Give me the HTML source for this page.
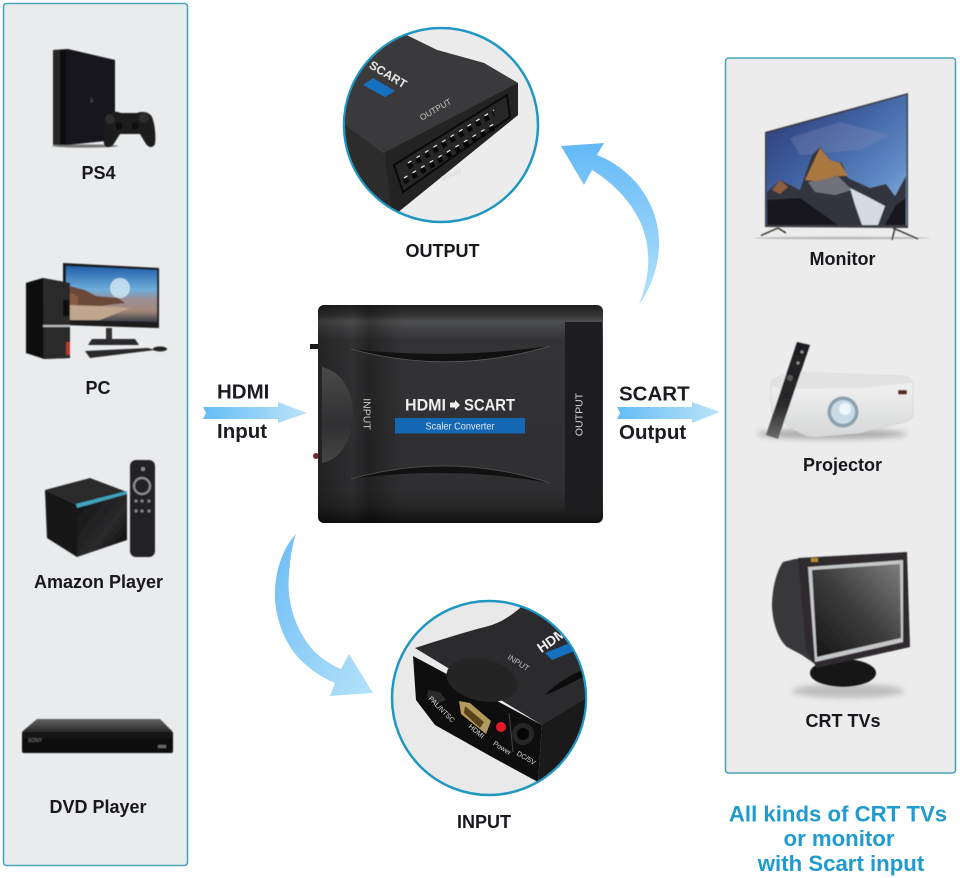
<!DOCTYPE html>
<html><head><meta charset="utf-8"><style>html,body{margin:0;padding:0;background:#fff}svg{display:block}text{font-family:"Liberation Sans",sans-serif}</style></head><body>
<svg width="960" height="878" viewBox="0 0 960 878" xmlns="http://www.w3.org/2000/svg">
<defs>
<linearGradient id="au" x1="0" y1="0" x2="0" y2="1"><stop offset="0" stop-color="#63b9f8"/><stop offset="1" stop-color="#b5e2fa"/></linearGradient>
<linearGradient id="ad" x1="0" y1="0" x2="1" y2="1"><stop offset="0" stop-color="#6cbdf6"/><stop offset="1" stop-color="#b5e2f9"/></linearGradient>
<linearGradient id="ah" x1="0" y1="0" x2="1" y2="0"><stop offset="0" stop-color="#63bdf7"/><stop offset="1" stop-color="#bde4f8"/></linearGradient>
<linearGradient id="dev" x1="0" y1="0" x2="0" y2="1"><stop offset="0" stop-color="#1f1f20"/><stop offset=".05" stop-color="#363637"/><stop offset=".075" stop-color="#4e4f50"/><stop offset=".16" stop-color="#333335"/><stop offset=".85" stop-color="#2f2f31"/><stop offset=".93" stop-color="#262627"/><stop offset="1" stop-color="#0f0f10"/></linearGradient>
<linearGradient id="devx" x1="0" y1="0" x2="1" y2="0"><stop offset="0" stop-color="#000" stop-opacity=".3"/><stop offset=".12" stop-color="#000" stop-opacity=".05"/><stop offset=".18" stop-color="#000" stop-opacity=".3"/><stop offset=".3" stop-color="#000" stop-opacity="0"/><stop offset="1" stop-color="#000" stop-opacity="0"/></linearGradient>
<linearGradient id="bump" x1="0" y1="0" x2="0" y2="1"><stop offset="0" stop-color="#4a4a4b"/><stop offset=".6" stop-color="#303032"/><stop offset="1" stop-color="#454546"/></linearGradient>
<linearGradient id="tvs" x1="0" y1="0" x2="1" y2="1"><stop offset="0" stop-color="#27386f"/><stop offset=".4" stop-color="#3f5f9e"/><stop offset=".75" stop-color="#5f8cc6"/><stop offset="1" stop-color="#9bbcdc"/></linearGradient>
<linearGradient id="pcs" x1="0" y1="0" x2="0" y2="1"><stop offset="0" stop-color="#1f5ea8"/><stop offset=".42" stop-color="#6eaedb"/><stop offset=".6" stop-color="#9a8f95"/><stop offset=".8" stop-color="#a48a78"/><stop offset="1" stop-color="#3a3c4a"/></linearGradient>
<linearGradient id="crt" x1="1" y1="0" x2="0" y2="1"><stop offset="0" stop-color="#7e7e7e"/><stop offset=".5" stop-color="#3c3c3d"/><stop offset="1" stop-color="#141415"/></linearGradient>
<linearGradient id="cub" x1="0" y1="0" x2="1" y2="1"><stop offset="0" stop-color="#111"/><stop offset=".6" stop-color="#2a2a2c"/><stop offset="1" stop-color="#050505"/></linearGradient>
<linearGradient id="prj" x1="0" y1="0" x2="0" y2="1"><stop offset="0" stop-color="#f6f6f6"/><stop offset="1" stop-color="#d6d7d8"/></linearGradient>
<linearGradient id="dvd" x1="0" y1="0" x2="0" y2="1"><stop offset="0" stop-color="#626262"/><stop offset=".36" stop-color="#2e2e2e"/><stop offset=".4" stop-color="#151515"/><stop offset="1" stop-color="#0a0a0a"/></linearGradient>
<linearGradient id="rem" x1="0" y1="0" x2="0" y2="1"><stop offset="0" stop-color="#1d1d1f"/><stop offset=".65" stop-color="#2a2a2c"/><stop offset="1" stop-color="#6b6b6d"/></linearGradient>
<clipPath id="c1"><circle cx="441" cy="125" r="96"/></clipPath>
<clipPath id="c2"><circle cx="489" cy="698" r="96"/></clipPath>
<filter id="s" x="-5%" y="-5%" width="110%" height="110%"><feGaussianBlur stdDeviation=".5"/></filter>
<filter id="b" x="-30%" y="-100%" width="160%" height="300%"><feGaussianBlur stdDeviation="3"/></filter>
</defs>
<rect width="960" height="878" fill="#fff"/>

<!-- Panels -->
<rect x="3.5" y="3.5" width="184" height="862" rx="3" fill="#e9ebec" stroke="#4ca5b6" stroke-width="1.6"/>
<rect x="725.5" y="58" width="230" height="715" rx="3" fill="#ececec" stroke="#4ca5b6" stroke-width="1.6"/>

<!-- PS4 -->
<g filter="url(#s)">
<ellipse cx="85" cy="146" rx="33" ry="1.6" fill="#777"/>
<polygon points="53,50 68,49 115,60 115,140 68,145 53,145" fill="#18181a"/>
<polygon points="60,50 66,50 66,145 60,145" fill="#070708"/>
<polygon points="53,50 60,50 60,145 53,145" fill="#262628"/>
<path d="M91 96l3 6-4 1z" fill="#39393b"/>
<path d="M106 116c5-5 10-5 15-3h16c6-2 12-1 15 4 3 7 4 20 3 27-2 4-6 4-9 0l-6-10h-20l-7 11c-3 3-8 3-9-1-1-8 0-21 2-28z" fill="#1b1b1d"/>
<circle cx="110" cy="119" r="5" fill="#2d2d2f"/><circle cx="144" cy="118" r="5" fill="#2d2d2f"/><circle cx="119" cy="126" r="3.5" fill="#0a0a0b"/><circle cx="135" cy="126" r="3.5" fill="#0a0a0b"/>
</g>
<text x="98.500" y="179" font-size="18" font-weight="700" text-anchor="middle" fill="#17171c">PS4</text>

<!-- PC -->
<g filter="url(#s)">
<polygon points="63,263 159,268 159,328 63,325" fill="#1a1a1c"/>
<polygon points="66,266 157,270 157,322 66,320" fill="url(#pcs)"/>
<circle cx="120" cy="288" r="10" fill="#cfe6f2" opacity=".85"/>
<polygon points="66,285 85,290 96,296 118,298 125,303 100,306 66,309" fill="#6a4a38"/>
<polygon points="66,305 100,306 130,308 100,320 66,320" fill="#c0a68c"/>
<polygon points="66,290 78,297 78,305 66,305" fill="#8a5d42"/>
<rect x="106" y="328" width="6" height="11" fill="#333"/>
<polygon points="92,339 135,339 139,345 88,345" fill="#2c2c2e"/>
<polygon points="85,351 148,348 155,350 90,358" fill="#29292b"/>
<ellipse cx="160" cy="349" rx="7" ry="2.5" fill="#222"/>
<polygon points="26,283 43,278 70,283 70,358 44,359 26,353" fill="#1d1d1f"/>
<polygon points="43,278 70,283 70,358 44,359" fill="#2a2a2c"/>
<rect x="43" y="325" width="27" height="2" fill="#bbb"/>
<rect x="66" y="342" width="4" height="13" fill="#b23a2e"/>
<rect x="63" y="300" width="6" height="16" fill="#0a0a0a"/>
<polygon points="26,283 43,278 43,357 26,353" fill="#111"/>
</g>
<text x="98" y="394" font-size="18" font-weight="700" text-anchor="middle" fill="#17171c">PC</text>

<!-- Amazon -->
<g filter="url(#s)">
<polygon points="45,490 90,478 127,492 77,505" fill="#2a2a2c"/>
<polygon points="45,490 77,505 77,557 47,538" fill="#141416"/>
<polygon points="77,505 127,492 127,540 77,557" fill="url(#cub)"/>
<polygon points="76,504 127,491 127,494 77,508" fill="#3fa4bd"/>
<rect x="130" y="460" width="25" height="97" rx="6" fill="#242426"/>
<circle cx="142" cy="486" r="8" fill="none" stroke="#8e9092" stroke-width="2"/>
<g fill="#8a8a8a"><circle cx="136" cy="501" r="1.500"/><circle cx="142" cy="501" r="1.500"/><circle cx="149" cy="501" r="1.500"/><circle cx="136" cy="511" r="1.500"/><circle cx="142" cy="511" r="1.500"/><circle cx="149" cy="511" r="1.500"/><circle cx="143" cy="469" r="2"/></g>
</g>
<text x="98.500" y="588" font-size="18" font-weight="700" text-anchor="middle" fill="#17171c">Amazon Player</text>

<!-- DVD -->
<g filter="url(#s)">
<path d="M37 719H160L172 731Q173 732 173 734V751Q173 753 171 753H24Q22 753 22 751V734Q22 732 23 731Z" fill="url(#dvd)"/>
<text x="35" y="742" font-size="5" fill="#777" text-anchor="middle">SONY</text>
<rect x="158" y="745" width="8" height="3" fill="#666"/>
</g>
<text x="98" y="813" font-size="18" font-weight="700" text-anchor="middle" fill="#17171c">DVD Player</text>

<!-- Monitor -->
<g filter="url(#s)">
<ellipse cx="842" cy="238" rx="88" ry="1.400" fill="#bbb"/>
<line x1="761" y1="235.500" x2="778" y2="228" stroke="#333" stroke-width="1.500"/>
<line x1="778" y1="228" x2="786" y2="233" stroke="#333" stroke-width="1.500"/>
<line x1="893" y1="228" x2="918" y2="239" stroke="#333" stroke-width="1.500"/>
<line x1="895" y1="228" x2="892" y2="240" stroke="#333" stroke-width="1.500"/>
<polygon points="765,132 908,93 908,228 765,227" fill="#3a3c40"/>
<polygon points="766.500,133.500 906.500,95 906.500,225 766.500,225" fill="url(#tvs)"/>
<polygon points="790,138 840,122 890,135 860,150 800,155" fill="#8b90bb" opacity=".3"/>
<polygon points="767,192 780,180 800,190 812,155 820,147 830,160 842,163 848,178 870,188 886,184 895,196 906,176 906,225 767,225" fill="#33353c"/>
<polygon points="805,180 820,148 830,160 840,163 848,176 836,176 820,182" fill="#a9773f"/>
<polygon points="808,182 822,180 838,176 852,190 835,195 815,192" fill="#6f7179"/>
<polygon points="780,180 788,187 780,194 772,190" fill="#8b5f3f"/>
<polygon points="850,188 868,197 885,206 878,225 862,225 855,205" fill="#d6dbe1"/>
<polygon points="767,200 800,198 838,225 767,225" fill="#16171b"/>
<polygon points="885,225 896,205 906,198 906,225" fill="#16171b"/>
</g>
<text x="842.500" y="265" font-size="18" font-weight="700" text-anchor="middle" fill="#17171c">Monitor</text>

<!-- Projector -->
<g filter="url(#s)">
<ellipse cx="832" cy="434" rx="75" ry="5" fill="#aaa" filter="url(#b)"/>
<path d="M773 379Q785 374 797 372L905 376Q913 378 913 385V416Q912 420 905 422L860 433 815 437Q805 437 790 427L774 415Q771 412 771 405V385Q771 381 773 379Z" fill="url(#prj)" stroke="#cfcfcf" stroke-width=".6"/>
<path d="M773 379Q785 374 797 372L905 376Q912 378 913 383L860 388 780 389 771 385Z" fill="#e2e2e2"/>
<circle cx="843" cy="412" r="15.500" fill="#8aa0ae"/><circle cx="843" cy="412" r="12" fill="#c9dbe6"/><circle cx="845" cy="409" r="6" fill="#eef6fa"/>
<rect x="898" y="390" width="9" height="4.500" rx="1" fill="#5a2a22"/>
<polygon points="797,342 810,345 778,439 766,435" fill="url(#rem)"/>
<circle cx="802" cy="352" r="1.500" fill="#999"/><circle cx="798" cy="363" r="1.500" fill="#999"/><circle cx="790" cy="378" r="3" fill="#55565a"/>
</g>
<text x="842.500" y="471" font-size="18" font-weight="700" text-anchor="middle" fill="#17171c">Projector</text>

<!-- CRT -->
<g filter="url(#s)">
<ellipse cx="848" cy="691" rx="56" ry="7" fill="#bdbdbd" filter="url(#b)"/>
<ellipse cx="843" cy="673" rx="33" ry="14" fill="#151516"/>
<path d="M815 558L795 559 783 562C776 572 772 590 772 607 773 625 779 640 787 647L802 655 815 664Z" fill="#39383a"/>
<polygon points="798,558 907,552 910,647 817,668 806,650" fill="#2e2c2e"/>
<polygon points="808,567 903,560 903,642 815,662" fill="#c6c7c8"/>
<polygon points="812,570 900,564 901,638 817,657" fill="url(#crt)"/>
<rect x="811" y="558" width="7" height="4" fill="#b08a2c"/>
</g>
<text x="843" y="727" font-size="18" font-weight="700" text-anchor="middle" fill="#17171c">CRT TVs</text>

<!-- Caption -->
<g font-size="22.200" font-weight="700" fill="#209bcf" text-anchor="middle">
<text x="838" y="821.500">All kinds of CRT TVs</text>
<text x="839" y="846">or monitor</text>
<text x="841" y="871">with Scart input</text>
</g>

<!-- Curved arrows -->
<path d="M561 146L604 143 597 155C635 170 658 205 659 240 660 265 650 290 639 305 648 280 650 262 647 245 643 215 620 187 592 170L584 185Z" fill="url(#au)"/>
<path d="M296 534C281 550 274 575 275 600 277 625 288 650 305 664 315 673 325 679 335 683L330 696 373 693 349 654 341 669C325 662 312 652 303 636 292 618 287 595 289 575 290 560 292 545 296 534Z" fill="url(#ad)"/>

<!-- Straight arrows -->
<polygon points="203,407 278,407 278,402 307,413 278,423 278,419 203,419 206,413" fill="url(#ah)"/>
<polygon points="617,407 692,407 692,402 720,412 692,423 692,419 617,419 620,413" fill="url(#ah)"/>

<g font-size="20.500" font-weight="700" fill="#1b1b20">
<text x="217" y="398.500">HDMI</text>
<text x="217" y="438">Input</text>
<text x="619" y="400.500">SCART</text>
<text x="619" y="439">Output</text>
</g>

<!-- Device -->
<rect x="310" y="344" width="9" height="5" fill="#1a1a1a"/>
<circle cx="316" cy="456" r="3" fill="#7a2a26"/>
<rect x="318" y="305" width="285" height="218" rx="6" fill="url(#dev)"/>
<rect x="318" y="305" width="285" height="218" rx="6" fill="url(#devx)"/>
<rect x="565" y="322" width="37" height="190" fill="#1d1d1f"/>
<path d="M322 367C342 372 352 390 353 412 353 440 340 460 322 463Z" fill="url(#bump)"/>
<path d="M351 349Q450 376 550 346Q450 360 351 349Z" fill="#111112"/>
<path d="M351 349Q450 376 550 346" fill="none" stroke="#5a5a5b" stroke-width=".8"/>
<path d="M351 479Q450 451 550 483Q450 465 351 479Z" fill="#111112"/>
<path d="M351 479Q450 451 550 483" fill="none" stroke="#505051" stroke-width=".8"/>
<text transform="translate(363.500,414) rotate(90)" font-size="10.500" fill="#c9c9c9" text-anchor="middle">INPUT</text>
<text transform="translate(582.500,414.500) rotate(-90)" font-size="10.500" fill="#d6d6d6" text-anchor="middle">OUTPUT</text>
<text x="405" y="410.500" font-size="17" font-weight="700" fill="#eee" textLength="41" lengthAdjust="spacingAndGlyphs">HDMI</text>
<polygon points="450,402.500 455,402.500 455,400 460,405 455,410 455,407.500 450,407.500" fill="#eee"/>
<text x="464" y="410.500" font-size="17" font-weight="700" fill="#eee" textLength="51" lengthAdjust="spacingAndGlyphs">SCART</text>
<rect x="395" y="418" width="130" height="15.500" fill="#1467b3"/>
<text x="460" y="429.500" font-size="10" fill="#dfe9f3" text-anchor="middle" textLength="69" lengthAdjust="spacingAndGlyphs">Scaler Converter</text>

<!-- Output circle -->
<circle cx="441" cy="125" r="97" fill="#ececec" stroke="#2096c2" stroke-width="2.500"/>
<g clip-path="url(#c1)">
<polygon points="340,20 392,28 437,50 484,63 518,83 518,115 392,217 340,220" fill="#2c2c2d"/>
<polygon points="340,20 392,28 437,50 484,63 518,83 383,153 345,125" fill="#3a3a3c"/>
<polygon points="385,153 518,83 518,115 392,217" fill="#232324"/>
<polygon points="394,165 507,95 510,117 403,192" fill="#262627" stroke="#0a0a0a" stroke-width="2"/>
<polygon points="373,78 395,91 385,97 363,85" fill="#1670c0"/>
<text transform="translate(386,78) rotate(31)" font-size="12" font-weight="700" fill="#e8e8e8" text-anchor="middle">SCART</text>
<text transform="translate(437,112) rotate(-30)" font-size="8.500" fill="#c8c8c8" text-anchor="middle">OUTPUT</text>
<text transform="translate(452,177) rotate(-22)" font-size="6.500" font-style="italic" fill="#d4d4d4" text-anchor="middle">SCART</text>
<line x1="408" y1="167" x2="494" y2="114" stroke="#050506" stroke-width="5" stroke-dasharray="5 5"/>
<line x1="404" y1="182" x2="497" y2="126" stroke="#050506" stroke-width="5" stroke-dasharray="5 5"/>
<line x1="408" y1="163" x2="494" y2="110" stroke="#eee" stroke-width="1.200" stroke-dasharray="4 6"/>
<line x1="404" y1="178" x2="497" y2="122" stroke="#eee" stroke-width="1.200" stroke-dasharray="4 6"/>
</g>
<text x="442.500" y="257" font-size="18" font-weight="700" text-anchor="middle" fill="#17171c">OUTPUT</text>

<!-- Input circle -->
<circle cx="489" cy="698" r="97" fill="#e9e9e9" stroke="#2096c2" stroke-width="2.500"/>
<g clip-path="url(#c2)">
<path d="M415 648C440 640 465 632 485 627 505 622 515 612 530 600L600 600 600 700 542 725Z" fill="#2b2b2d"/>
<polygon points="542,725 600,690 600,790 538,782" fill="#1a1a1b"/>
<polygon points="413,656 542,725 538,782 492,757 435,725 416,700" fill="#0e0e0f"/>
<ellipse cx="482" cy="680" rx="36" ry="21" fill="#242425" transform="rotate(12 482 680)"/>
<polygon points="545,653 570,643 577,650 552,660" fill="#1670c0"/>
<path d="M545 695C560 680 575 672 590 668L590 674C575 680 560 690 545 695Z" fill="#0c0c0d"/>
<text transform="translate(556,643) rotate(-35)" font-size="14" font-weight="700" fill="#eee" text-anchor="middle">HDMI</text>
<text transform="translate(517,665) rotate(32)" font-size="8" fill="#bbb" text-anchor="middle">INPUT</text>
<polygon points="428,690 440,692 446,700 436,704 427,696" fill="#2a2a2b"/>
<polygon points="459,701 470,703 491,721 486,734 461,714" fill="#b39a5c"/>
<polygon points="465,706 484,722 480,728 464,713" fill="#57421a"/>
<circle cx="501" cy="727" r="5" fill="#e5172a"/>
<circle cx="523" cy="734" r="11" fill="#262627"/><circle cx="523" cy="734" r="6" fill="#050505"/>
<line x1="509" y1="713" x2="513" y2="752" stroke="#444" stroke-width="1"/>
<text transform="translate(440,711) rotate(45)" font-size="7" fill="#ddd" text-anchor="middle">PAL/NTSC</text>
<text transform="translate(475,733) rotate(40)" font-size="7" fill="#ddd" text-anchor="middle">HDMI</text>
<text transform="translate(501,750) rotate(32)" font-size="7" fill="#ddd" text-anchor="middle">Power</text>
<text transform="translate(525,760) rotate(30)" font-size="7" fill="#ddd" text-anchor="middle">DC/5V</text>
</g>
<text x="484" y="828" font-size="18" font-weight="700" text-anchor="middle" fill="#17171c">INPUT</text>
</svg>
</body></html>
